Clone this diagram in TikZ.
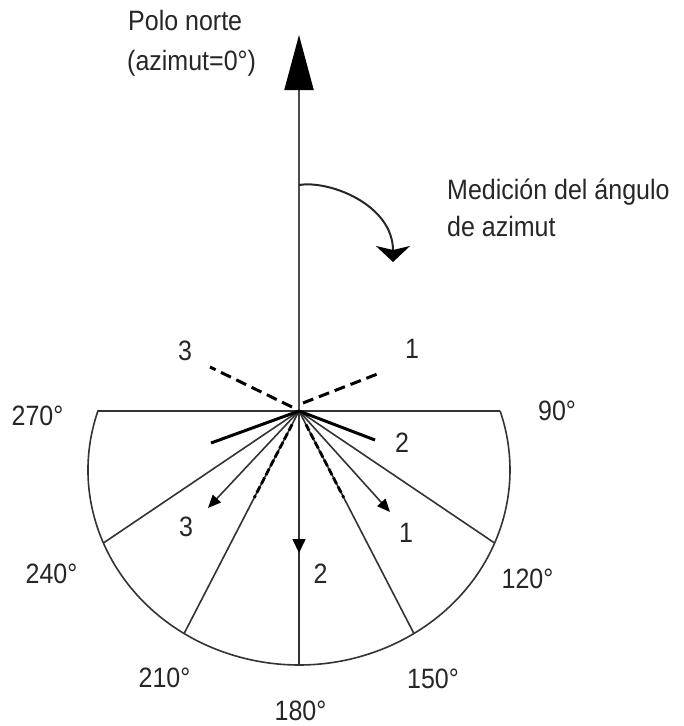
\documentclass[tikz,border=0pt]{standalone}
\usepackage{fontspec}
\setmainfont{Liberation Sans}
\usetikzlibrary{arrows.meta,calc}
\newcommand{\vst}[1]{\scalebox{1}[1.12]{#1}}
\begin{document}
\begin{tikzpicture}[x=1pt,y=-1pt,
  lbl/.style={inner sep=0pt, font=\fontsize{25}{30}\selectfont, text=black!85},
  thin/.style={line width=1.6pt, draw=black!80},
  axis/.style={line width=2pt, draw=black!70},
  bold/.style={line width=3pt, draw=black},
  bolddash/.style={line width=3pt, draw=black, dash pattern=on 11pt off 6pt},
  spokedash/.style={line width=2.8pt, draw=black, dash pattern=on 7pt off 3pt},
  smallarrow/.style={thin, -{Triangle[length=13pt,width=11pt,color=black]}}]
\useasboundingbox (0,0) rectangle (684,726);
% coordinates
\coordinate (C) at (299,411);
\coordinate (N) at (299,35);
\coordinate (L) at (97.9,411);
\coordinate (R) at (500.1,411);
\coordinate (s120) at (494.6,543);
\coordinate (s240) at (103.4,543);
\coordinate (s150) at (413.9,633.5);
\coordinate (s210) at (184.1,633.5);
\coordinate (s180) at (299,665);
\coordinate (m180) at (299,553);
\coordinate (a1) at (390,512);
\coordinate (a3) at (208,508);
\coordinate (dr0) at (303,403);
\coordinate (dr1) at (380,373);
\coordinate (dl0) at (292,407);
\coordinate (dl1) at (210,367);
\coordinate (tl) at (211,443);
\coordinate (tr) at (375,440);
\coordinate (c0) at (299,185);
\coordinate (c1) at (393,262);
% half ellipse and horizontal line
\draw[thin] (R) -- (L) arc[start angle=162.4, end angle=377.6, x radius=211pt, y radius=195pt];
% spokes
\draw[thin] (C) -- (s120);
\draw[thin] (C) -- (s150);
\draw[thin] (C) -- (s210);
\draw[thin] (C) -- (s240);
\draw[thin] (C) -- (s180);
\draw[thin, -{Triangle[length=14pt,width=13pt,color=black]}] (C) -- (m180);
% north axis
\draw[axis, -{Triangle[length=55pt,width=29pt,color=black]}] (C) -- (N);
% curved arrow
\draw[line width=2pt, draw=black!85, -{Stealth[length=16pt,width=34pt,inset=4pt,color=black]}]
  (c0) .. controls (330,180) and (393,205) .. (c1);
% direction arrows
\draw[smallarrow] (C) -- (a1);
\draw[smallarrow] (C) -- (a3);
% dashed lines above
\draw[bolddash] (dr0) -- (dr1);
\draw[bolddash] (dl0) -- (dl1);
% thick solid lines
\draw[bold] (C) -- (tl);
\draw[bold] (C) -- (tr);
% thick dashed along spokes
\draw[spokedash] ($(C)!0.06!(s210)$) -- ($(C)!0.39!(s210)$);
\draw[spokedash] ($(C)!0.06!(s150)$) -- ($(C)!0.39!(s150)$);
% labels
\node[lbl, anchor=base west] (polo1) at (128,30) {\vst{Polo norte}};
\node[lbl, anchor=base west] (polo2) at (127,70) {\vst{(azimut=0°)}};
\node[lbl, anchor=base west] (med1) at (447,199) {\vst{Medición del ángulo}};
\node[lbl, anchor=base west] (med2) at (447,236) {\vst{de azimut}};
\node[lbl, anchor=base] (d270) at (37.5,425) {\vst{270°}};
\node[lbl, anchor=base] (d90) at (557,420) {\vst{90°}};
\node[lbl, anchor=base] (d240) at (51.5,583) {\vst{240°}};
\node[lbl, anchor=base] (d120) at (527.5,588) {\vst{120°}};
\node[lbl, anchor=base] (d210) at (164.5,687) {\vst{210°}};
\node[lbl, anchor=base] (d150) at (433,688) {\vst{150°}};
\node[lbl, anchor=base] (d180) at (300.5,720) {\vst{180°}};
\node[lbl, anchor=base] (t1) at (412,358) {\vst{1}};
\node[lbl, anchor=base] (t3) at (185,360) {\vst{3}};
\node[lbl, anchor=base] (m2) at (402,452) {\vst{2}};
\node[lbl, anchor=base] (b3) at (186,536) {\vst{3}};
\node[lbl, anchor=base] (b1) at (406,542) {\vst{1}};
\node[lbl, anchor=base] (b2) at (320.5,583) {\vst{2}};
\end{tikzpicture}
\end{document}
